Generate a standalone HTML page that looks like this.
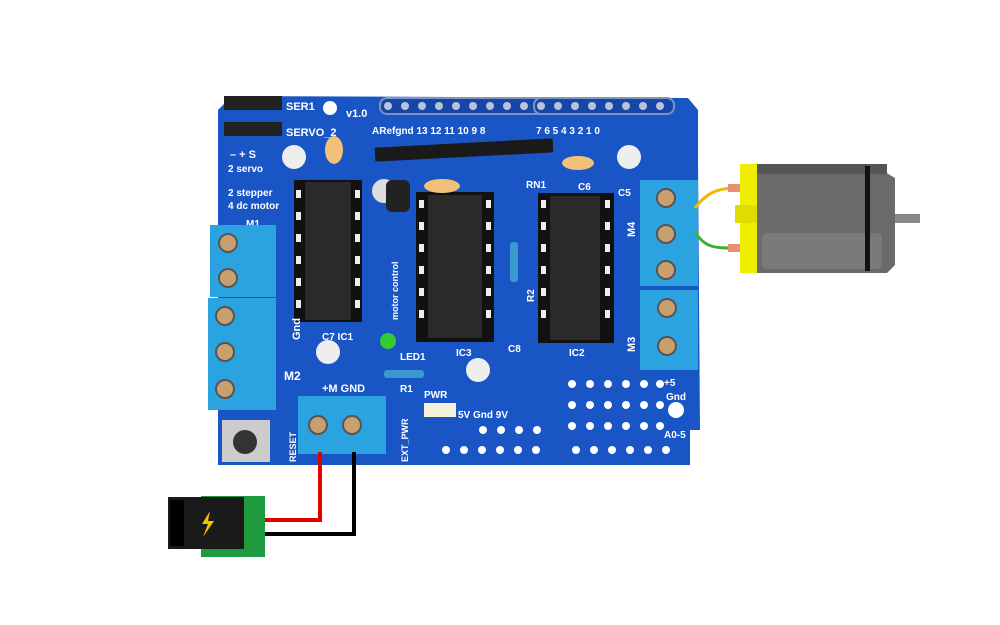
<!DOCTYPE html>
<html><head><meta charset="utf-8"><style>
html,body{margin:0;padding:0;background:#fff;width:1000px;height:625px;overflow:hidden}
svg{display:block}
text{font-family:"Liberation Sans",sans-serif;fill:#fff;font-weight:bold}
</style></head><body>
<svg width="1000" height="625" viewBox="0 0 1000 625" xmlns="http://www.w3.org/2000/svg">
<rect width="1000" height="625" fill="#fff"/>
<!-- board -->
<path d="M232,96 L688,98 L698,110 L698,160 L700,430 L690,430 L690,465 L218,465 L218,110 Z" fill="#1a55c6"/>
<!-- header pins top -->
<g fill="#1546a8" stroke="#7f93c0" stroke-width="2">
<rect x="380" y="98" width="200" height="16" rx="7"/>
<rect x="534" y="98" width="140" height="16" rx="7"/>
</g>
<g fill="#b8c4d8">
<circle cx="388" cy="106" r="4"/><circle cx="405" cy="106" r="4"/><circle cx="422" cy="106" r="4"/><circle cx="439" cy="106" r="4"/><circle cx="456" cy="106" r="4"/><circle cx="473" cy="106" r="4"/><circle cx="490" cy="106" r="4"/><circle cx="507" cy="106" r="4"/><circle cx="524" cy="106" r="4"/>
<circle cx="541" cy="106" r="4"/><circle cx="558" cy="106" r="4"/><circle cx="575" cy="106" r="4"/><circle cx="592" cy="106" r="4"/><circle cx="609" cy="106" r="4"/><circle cx="626" cy="106" r="4"/><circle cx="643" cy="106" r="4"/><circle cx="660" cy="106" r="4"/>
</g>
<text x="372" y="134" font-size="10">ARefgnd 13 12 11 10 9 8</text>
<text x="536" y="134" font-size="10">7 6 5 4 3 2 1 0</text>
<text x="346" y="117" font-size="11">v1.0</text>
<circle cx="330" cy="108" r="7" fill="#fff"/>
<!-- servo headers -->
<rect x="224" y="96" width="58" height="14" fill="#222"/>
<rect x="224" y="122" width="58" height="14" fill="#222"/>
<text x="286" y="110" font-size="11">SER1</text>
<text x="286" y="136" font-size="11">SERVO_2</text>
<text x="230" y="158" font-size="11">– + S</text>
<text x="228" y="172" font-size="10">2 servo</text>
<text x="228" y="196" font-size="10">2 stepper</text>
<text x="228" y="209" font-size="10">4 dc motor</text>
<!-- RN1 -->
<rect x="375" y="143" width="178" height="14" fill="#1a1a1a" transform="rotate(-3 464 150)"/>
<text x="526" y="188" font-size="10">RN1</text>
<text x="578" y="190" font-size="10">C6</text>
<text x="618" y="196" font-size="10">C5</text>
<!-- ICs -->
<g>
<rect x="294" y="180" width="68" height="142" fill="#111"/>
<rect x="305" y="182" width="46" height="138" fill="#2a2a2a"/>
<rect x="416" y="192" width="78" height="150" fill="#111"/>
<rect x="428" y="195" width="54" height="143" fill="#2a2a2a"/>
<rect x="538" y="193" width="76" height="150" fill="#111"/>
<rect x="550" y="196" width="50" height="144" fill="#2a2a2a"/>
</g>
<g fill="#eee">
<rect x="296" y="190" width="5" height="8"/><rect x="296" y="212" width="5" height="8"/><rect x="296" y="234" width="5" height="8"/><rect x="296" y="256" width="5" height="8"/><rect x="296" y="278" width="5" height="8"/><rect x="296" y="300" width="5" height="8"/>
<rect x="355" y="190" width="5" height="8"/><rect x="355" y="212" width="5" height="8"/><rect x="355" y="234" width="5" height="8"/><rect x="355" y="256" width="5" height="8"/><rect x="355" y="278" width="5" height="8"/><rect x="355" y="300" width="5" height="8"/>
<rect x="419" y="200" width="5" height="8"/><rect x="419" y="222" width="5" height="8"/><rect x="419" y="244" width="5" height="8"/><rect x="419" y="266" width="5" height="8"/><rect x="419" y="288" width="5" height="8"/><rect x="419" y="310" width="5" height="8"/>
<rect x="486" y="200" width="5" height="8"/><rect x="486" y="222" width="5" height="8"/><rect x="486" y="244" width="5" height="8"/><rect x="486" y="266" width="5" height="8"/><rect x="486" y="288" width="5" height="8"/><rect x="486" y="310" width="5" height="8"/>
<rect x="541" y="200" width="5" height="8"/><rect x="541" y="222" width="5" height="8"/><rect x="541" y="244" width="5" height="8"/><rect x="541" y="266" width="5" height="8"/><rect x="541" y="288" width="5" height="8"/><rect x="541" y="310" width="5" height="8"/>
<rect x="605" y="200" width="5" height="8"/><rect x="605" y="222" width="5" height="8"/><rect x="605" y="244" width="5" height="8"/><rect x="605" y="266" width="5" height="8"/><rect x="605" y="288" width="5" height="8"/><rect x="605" y="310" width="5" height="8"/>
</g>
<text x="0" y="0" font-size="9" transform="translate(398,320) rotate(-90)">motor control</text>
<text x="322" y="340" font-size="10">C7 IC1</text>
<text x="456" y="356" font-size="10">IC3</text>
<text x="508" y="352" font-size="10">C8</text>
<text x="569" y="356" font-size="10">IC2</text>
<text x="512" y="300" font-size="10" transform="rotate(-90 524 290)">R2</text>
<!-- caps -->
<circle cx="294" cy="157" r="12" fill="#eee"/>
<ellipse cx="334" cy="150" rx="9" ry="14" fill="#f3c07a"/>
<circle cx="384" cy="191" r="12" fill="#ddd"/>
<rect x="386" y="180" width="24" height="32" fill="#222" rx="6"/>
<ellipse cx="442" cy="186" rx="18" ry="7" fill="#f3c07a"/>
<ellipse cx="578" cy="163" rx="16" ry="7" fill="#f3c07a"/>
<circle cx="629" cy="157" r="12" fill="#eee"/>
<circle cx="328" cy="352" r="12" fill="#eee"/>
<circle cx="478" cy="370" r="12" fill="#eee"/>
<circle cx="388" cy="341" r="8" fill="#3c3"/>
<rect x="384" y="370" width="40" height="8" fill="#3a9ad0" rx="3"/>
<rect x="510" y="242" width="8" height="40" fill="#3a9ad0" rx="3"/>
<text x="400" y="360" font-size="10">LED1</text>
<text x="400" y="392" font-size="10">R1</text>
<text x="322" y="392" font-size="11">+M   GND</text>
<text x="424" y="398" font-size="10">PWR</text>
<rect x="424" y="403" width="32" height="14" fill="#f5f0d8"/>
<text x="458" y="418" font-size="10">5V Gnd 9V</text>
<text x="664" y="386" font-size="10">+5</text>
<text x="666" y="400" font-size="10">Gnd</text>
<text x="664" y="438" font-size="10">A0-5</text>
<!-- pad grid -->
<g fill="#fff">
<circle cx="572" cy="384" r="4"/><circle cx="590" cy="384" r="4"/><circle cx="608" cy="384" r="4"/><circle cx="626" cy="384" r="4"/><circle cx="644" cy="384" r="4"/><circle cx="660" cy="384" r="4"/>
<circle cx="572" cy="405" r="4"/><circle cx="590" cy="405" r="4"/><circle cx="608" cy="405" r="4"/><circle cx="626" cy="405" r="4"/><circle cx="644" cy="405" r="4"/><circle cx="660" cy="405" r="4"/>
<circle cx="572" cy="426" r="4"/><circle cx="590" cy="426" r="4"/><circle cx="608" cy="426" r="4"/><circle cx="626" cy="426" r="4"/><circle cx="644" cy="426" r="4"/><circle cx="660" cy="426" r="4"/>
<circle cx="483" cy="430" r="4"/><circle cx="501" cy="430" r="4"/><circle cx="519" cy="430" r="4"/><circle cx="537" cy="430" r="4"/>
<circle cx="446" cy="450" r="4"/><circle cx="464" cy="450" r="4"/><circle cx="482" cy="450" r="4"/><circle cx="500" cy="450" r="4"/><circle cx="518" cy="450" r="4"/><circle cx="536" cy="450" r="4"/>
<circle cx="576" cy="450" r="4"/><circle cx="594" cy="450" r="4"/><circle cx="612" cy="450" r="4"/><circle cx="630" cy="450" r="4"/><circle cx="648" cy="450" r="4"/><circle cx="666" cy="450" r="4"/>
<circle cx="676" cy="410" r="8"/>
</g>
<!-- reset button -->
<rect x="222" y="420" width="48" height="42" fill="#ccc"/>
<circle cx="245" cy="442" r="12" fill="#333"/>
<text x="0" y="0" font-size="9" transform="translate(296,462) rotate(-90)">RESET</text>
<text x="0" y="0" font-size="9" transform="translate(408,462) rotate(-90)">EXT_PWR</text>
<text x="284" y="380" font-size="12">M2</text>
<text x="246" y="227" font-size="10">M1</text>
<text x="0" y="0" font-size="11" transform="translate(300,340) rotate(-90)">Gnd</text>
<text x="0" y="0" font-size="11" transform="translate(635,237) rotate(-90)">M4</text>
<text x="0" y="0" font-size="11" transform="translate(635,352) rotate(-90)">M3</text>
<!-- terminal blocks -->
<g fill="#2aa3e0">
<rect x="210" y="225" width="66" height="72"/>
<rect x="208" y="298" width="68" height="112"/>
<rect x="298" y="396" width="88" height="58"/>
<rect x="640" y="180" width="58" height="106"/>
<rect x="640" y="290" width="58" height="80"/>
</g>
<g fill="#c8a070" stroke="#555" stroke-width="2">
<circle cx="228" cy="243" r="9"/><circle cx="228" cy="278" r="9"/>
<circle cx="225" cy="316" r="9"/><circle cx="225" cy="352" r="9"/><circle cx="225" cy="389" r="9"/>
<circle cx="318" cy="425" r="9"/><circle cx="352" cy="425" r="9"/>
<circle cx="666" cy="198" r="9"/><circle cx="666" cy="234" r="9"/><circle cx="666" cy="270" r="9"/>
<circle cx="667" cy="308" r="9"/><circle cx="667" cy="346" r="9"/>
</g>
<!-- motor wires -->
<path d="M695,208 C705,195 715,188 735,188" stroke="#f0b800" stroke-width="3" fill="none"/>
<path d="M695,232 C705,248 715,248 735,248" stroke="#3cb030" stroke-width="3" fill="none"/>
<rect x="728" y="184" width="12" height="8" fill="#e89070"/>
<rect x="728" y="244" width="12" height="8" fill="#e89070"/>
<!-- motor -->
<rect x="740" y="164" width="17" height="109" fill="#f0ee00"/>
<rect x="735" y="205" width="25" height="18" fill="#e0dc00"/>
<path d="M757,164 L880,164 L885,172 L895,178 L895,265 L887,273 L757,273 Z" fill="#6a6a6a"/>
<rect x="757" y="164" width="130" height="10" fill="#555"/>
<rect x="762" y="233" width="120" height="36" rx="5" fill="#7a7a7a"/>
<rect x="865" y="166" width="5" height="105" fill="#111"/>
<rect x="895" y="214" width="25" height="9" fill="#888"/>
<!-- power wires -->
<path d="M320,452 L320,520 L265,520" stroke="#e00000" stroke-width="4" fill="none"/>
<path d="M354,452 L354,534 L265,534" stroke="#000" stroke-width="4" fill="none"/>
<!-- jack -->
<rect x="201" y="496" width="64" height="61" fill="#1f9a3e"/>
<rect x="168" y="497" width="76" height="52" fill="#1a1a1a"/>
<rect x="170" y="500" width="14" height="46" fill="#000"/>
<path d="M210,511 L202,524 L208,524 L203,537 L214,521 L208,521 Z" fill="#f5c000"/>
</svg>
</body></html>
